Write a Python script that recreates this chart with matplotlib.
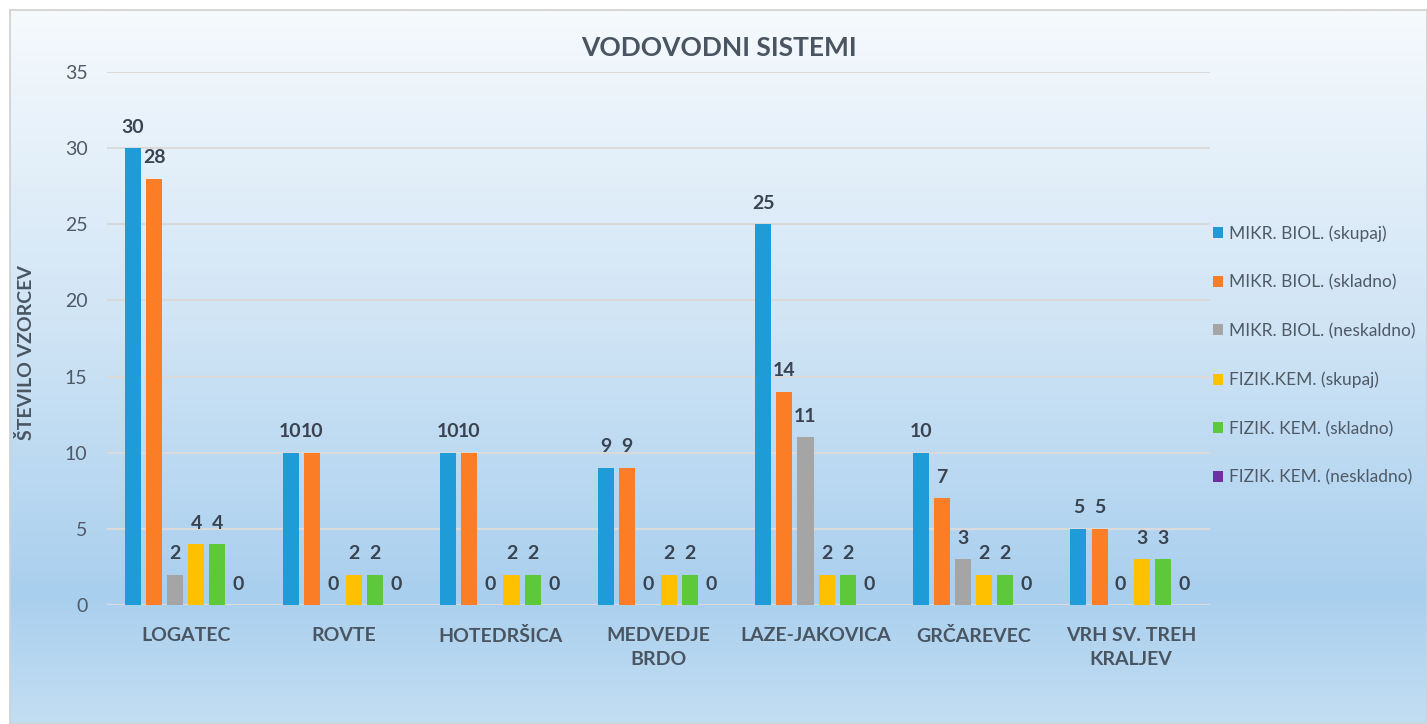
import matplotlib.pyplot as plt
import numpy as np
from matplotlib.colors import LinearSegmentedColormap

plt.rcParams['font.family'] = ['Lato', 'DejaVu Sans']

# data
kategorije = ["LOGATEC", "ROVTE", "HOTEDRŠICA", "MEDVEDJE\nBRDO", "LAZE-JAKOVICA",
              "GRČAREVEC", "VRH SV. TREH\nKRALJEV"]
serije = ["MIKR. BIOL. (skupaj)", "MIKR. BIOL. (skladno)", "MIKR. BIOL. (neskaldno)",
          "FIZIK.KEM. (skupaj)", "FIZIK. KEM. (skladno)", "FIZIK. KEM. (neskladno)"]
mikr_skupaj = [30, 10, 10, 9, 25, 10, 5]
mikr_skladno = [28, 10, 10, 9, 14, 7, 5]
mikr_neskladno = [2, 0, 0, 0, 11, 3, 0]
fizkem_skupaj = [4, 2, 2, 2, 2, 2, 3]
fizkem_skladno = [4, 2, 2, 2, 2, 2, 3]
fizkem_neskladno = [0, 0, 0, 0, 0, 0, 0]
vrednosti = [mikr_skupaj, mikr_skladno, mikr_neskladno,
             fizkem_skupaj, fizkem_skladno, fizkem_neskladno]
barve = ["#1f9bd7", "#fb7d26", "#a5a5a5", "#ffc000", "#5dc93a", "#7030a0"]

fig = plt.figure(figsize=(14.27, 7.24), dpi=100)

# gradient background with frame
bg = fig.add_axes([10/1427, 0, 1 - 10/1427, 1 - 10/724], zorder=0)
cmap = LinearSegmentedColormap.from_list(
    "bg", [(0, "#f6fafd"), (0.45, "#cfe4f5"), (0.82, "#a9cfee"), (1, "#c3def3")])
grad = np.linspace(0, 1, 256).reshape(-1, 1)
bg.imshow(grad, aspect="auto", cmap=cmap, extent=[0, 1, 0, 1], origin="upper")
bg.set_xticks([])
bg.set_yticks([])
for s in bg.spines.values():
    s.set_color("#d0d0d0")
    s.set_linewidth(1.2)

ax = fig.add_axes([107/1427, 1 - 605/724, (1210 - 107)/1427, (605 - 72)/724], zorder=1)
ax.patch.set_alpha(0)

x = np.arange(len(kategorije))
korak = 0.134
sirina = 0.102
for i, (ime, vals, c) in enumerate(zip(serije, vrednosti, barve)):
    b = ax.bar(x + (i - 2.5) * korak, vals, sirina, color=c, label=ime, zorder=3)
    ax.bar_label(b, padding=9, fontsize=14, fontweight="bold", color="#3a4350")

ax.set_xlim(-0.5, len(kategorije) - 0.5)
ax.set_ylim(0, 35)
ax.set_yticks(range(0, 36, 5))
ax.yaxis.grid(True, color="#dadada", linewidth=1.5, zorder=0)
ax.set_axisbelow(True)
for s in ax.spines.values():
    s.set_visible(False)
ax.tick_params(axis="both", length=0)
ax.tick_params(axis="y", labelsize=14, labelcolor="#505a66", pad=14)
ax.set_xticks(x)
ax.set_xticklabels(kategorije, fontsize=14, fontweight="bold", color="#4a5562",
                   linespacing=1.5)
ax.tick_params(axis="x", pad=16)

ax.set_ylabel("ŠTEVILO VZORCEV", fontsize=14, fontweight="bold", color="#4a5562")
ax.yaxis.set_label_coords(-0.065, 0.473)

fig.text(719/1427, 1 - 48/724, "VODOVODNI SISTEMI", ha="center", va="center",
         fontsize=19, fontweight="bold", color="#4a5562")

fig.legend(loc="upper left", bbox_to_anchor=(1213/1427, 1 - 225/724), frameon=False,
           fontsize=12.5, labelcolor="#505a66", handlelength=0.6, handleheight=0.6,
           handletextpad=0.35, labelspacing=1.88, borderpad=0, borderaxespad=0)

fig.savefig("out.png", dpi=100)
